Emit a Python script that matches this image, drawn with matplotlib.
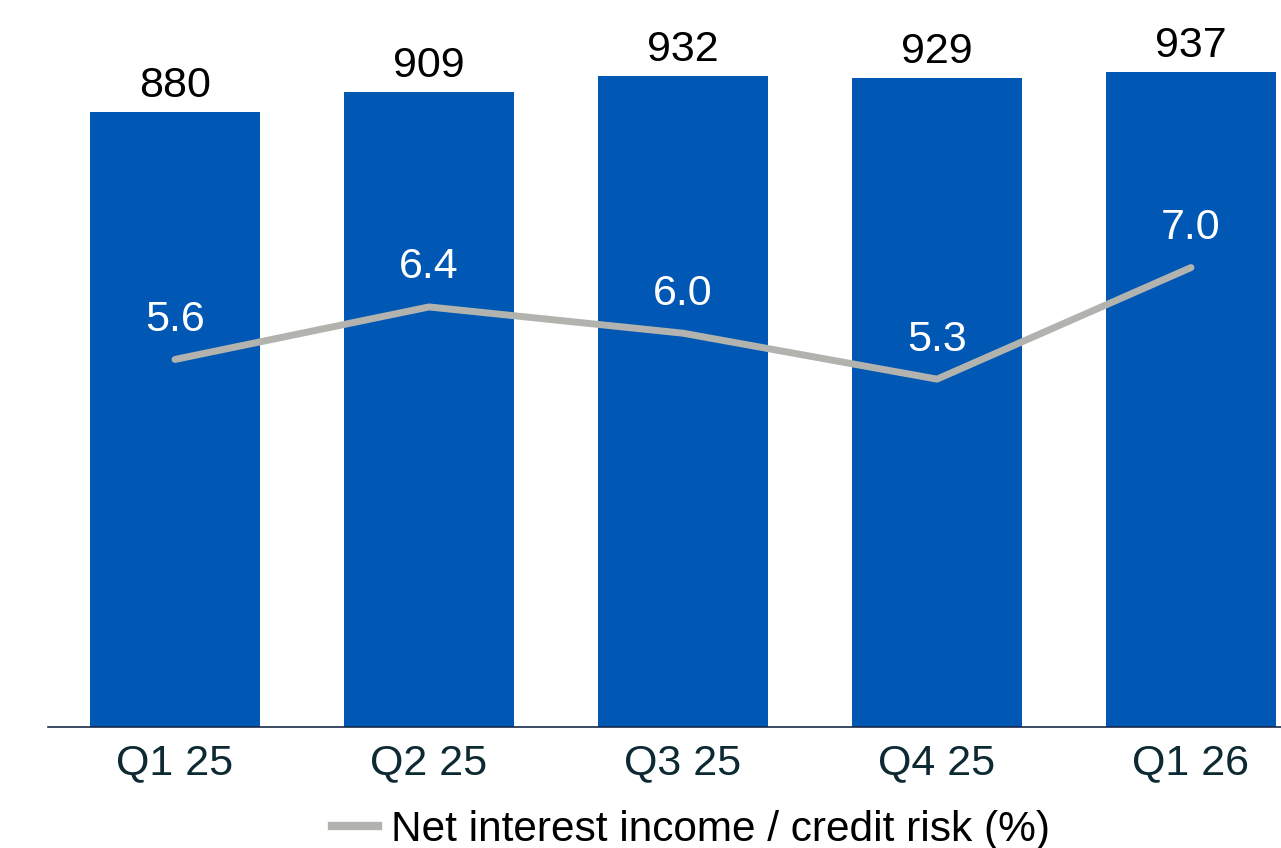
import matplotlib.pyplot as plt
from matplotlib.lines import Line2D

plt.rcParams['font.family'] = ['Liberation Sans', 'DejaVu Sans']

# Quarterly values
quarters = ['Q1 25', 'Q2 25', 'Q3 25', 'Q4 25', 'Q1 26']
nii = [880, 909, 932, 929, 937]
nii_ratio = [5.6, 6.4, 6.0, 5.3, 7.0]

bar_color = '#0057b4'
line_color = '#b2b3ae'
text_dark = '#0d2a33'

fig = plt.figure(figsize=(12.81, 8.48), dpi=100)
ax = fig.add_axes([48 / 1281, 121 / 848, 1270 / 1281, 699 / 848])

x = range(len(quarters))
ax.bar(x, nii, width=0.67, color=bar_color, zorder=2)
for i, v in enumerate(nii):
    ax.text(i, v + 8, str(v), ha='center', va='bottom', fontsize=31, color='black')

ax.set_xlim(-0.5, 4.5)
ax.set_ylim(0, 1000)
ax.set_yticks([])
ax.set_xticks(list(x))
ax.set_xticklabels(quarters, fontsize=31, color=text_dark)
ax.tick_params(axis='x', length=0, pad=12)
for s in ['top', 'right', 'left']:
    ax.spines[s].set_visible(False)
ax.spines['bottom'].set_color('#1a2a4a')
ax.spines['bottom'].set_linewidth(1.2)

# ratio line on a second scale
ax2 = ax.twinx()
ax2.plot(x, nii_ratio, color=line_color, linewidth=5, solid_capstyle='round', zorder=3)
ax2.set_ylim(0, 10.65)
ax2.axis('off')
for i, v in enumerate(nii_ratio):
    ax2.annotate(f'{v:.1f}', (i, v), xytext=(0, 14), textcoords='offset points',
                 ha='center', va='bottom', fontsize=31, color='white')

handle = Line2D([], [], color=line_color, linewidth=6)
fig.legend([handle], ['Net interest income / credit risk (%)'], loc='center',
           bbox_to_anchor=(691 / 1281, 1 - 830 / 848), frameon=False, fontsize=30.5,
           handlelength=1.1, handletextpad=0.3, labelcolor='black')

fig.savefig('out.png', dpi=100)
